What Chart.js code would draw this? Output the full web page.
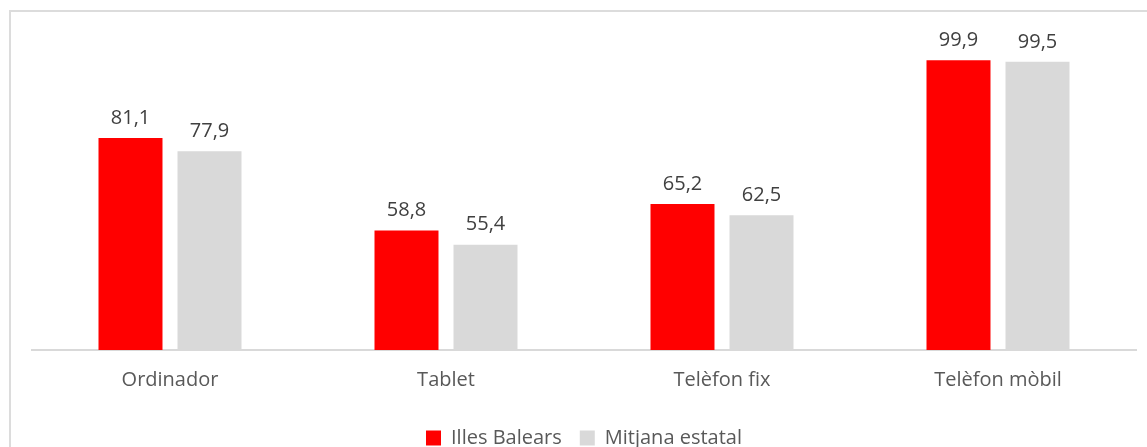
<!DOCTYPE html>
<html>
<head>
<meta charset="utf-8">
<script src="https://cdn.jsdelivr.net/npm/chart.js@4/dist/chart.umd.min.js"></script>
<style>
    body { margin: 0; background: #fff; }
    #wrap { position: relative; width: 1147px; height: 447px; overflow: hidden; }
    #frame { position: absolute; left: 9px; top: 10px; width: 1150px; height: 460px; border: 2px solid #dcdcdc; box-sizing: border-box; }
    #chart { position: absolute; left: 0; top: 0; }
</style>
</head>
<body>
<div id="wrap">
    <div id="frame"></div>
    <canvas id="chart" width="1147" height="447"></canvas>
</div>
<script>
const categories = ['Ordinador', 'Tablet', 'Telèfon fix', 'Telèfon mòbil'];
const illesBalears = [81.1, 58.8, 65.2, 99.9];
const mitjanaEstatal = [77.9, 55.4, 62.5, 99.5];
const seriesNames = ['Illes Balears', 'Mitjana estatal'];

const FONT = '"Open Sans", "Noto Sans", sans-serif';

// draws the value above each bar, with a decimal comma
const valueLabels = {
    id: 'valueLabels',
    afterDatasetsDraw(chart) {
        const ctx = chart.ctx;
        ctx.save();
        ctx.font = '20px ' + FONT;
        ctx.fillStyle = '#404040';
        ctx.textAlign = 'center';
        ctx.textBaseline = 'middle';
        chart.data.datasets.forEach((ds, i) => {
            chart.getDatasetMeta(i).data.forEach((bar, j) => {
                const text = ds.data[j].toFixed(1).replace('.', ',');
                ctx.fillText(text, bar.x, bar.y - 20);
            });
        });
        ctx.restore();
    }
};

const ctx = document.getElementById('chart').getContext('2d');
new Chart(ctx, {
    type: 'bar',
    data: {
        labels: categories,
        datasets: [{
            label: seriesNames[0],
            data: illesBalears,
            backgroundColor: '#ff0000',
            barPercentage: 0.81,
            categoryPercentage: 0.5725
        }, {
            label: seriesNames[1],
            data: mitjanaEstatal,
            backgroundColor: '#d9d9d9',
            barPercentage: 0.81,
            categoryPercentage: 0.5725
        }]
    },
    options: {
        responsive: false,
        devicePixelRatio: 1,
        animation: false,
        layout: {
            padding: { left: 32, right: 11, top: 39, bottom: -11 }
        },
        scales: {
            x: {
                grid: { display: false, drawTicks: false },
                border: { display: true, color: '#d9d9d9', width: 2 },
                ticks: {
                    color: '#595959',
                    font: { family: FONT, size: 20 },
                    padding: 18
                }
            },
            y: {
                display: false,
                min: 30,
                max: 105
            }
        },
        plugins: {
            legend: {
                position: 'bottom',
                labels: {
                    color: '#595959',
                    font: { family: FONT, size: 20 },
                    boxWidth: 15,
                    boxHeight: 15,
                    padding: 18
                }
            },
            tooltip: { enabled: false }
        }
    },
    plugins: [valueLabels]
});
</script>
</body>
</html>
